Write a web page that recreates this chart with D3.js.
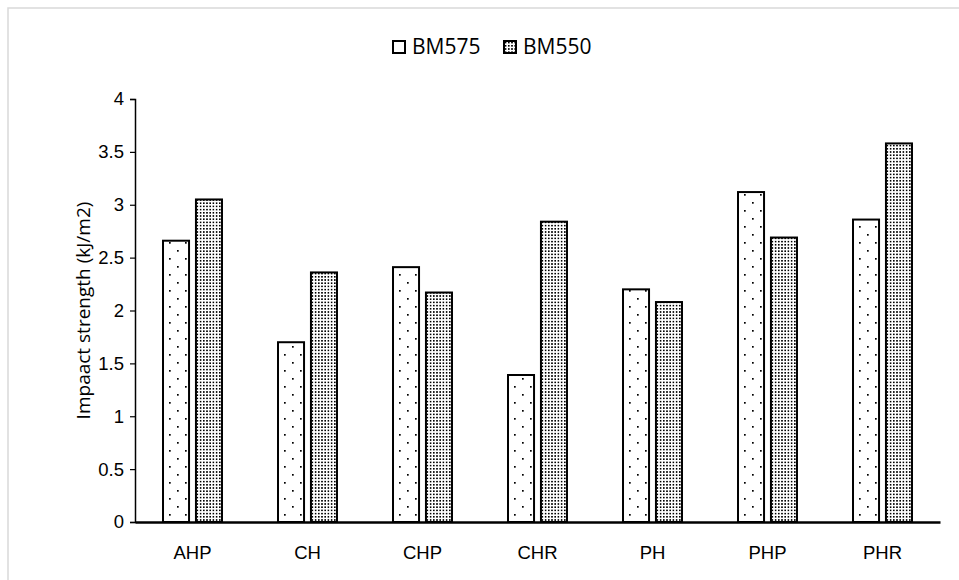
<!DOCTYPE html>
<html>
<head>
<meta charset="utf-8">
<script src="https://cdn.jsdelivr.net/npm/d3@7"></script>
<style>
  body { margin: 0; background: #fff; }
  svg { display: block; font-family: "Open Sans", "Noto Sans", sans-serif; }
</style>
</head>
<body>
<div id="chart"></div>
<script>
// 数据
const categories = ['AHP', 'CH', 'CHP', 'CHR', 'PH', 'PHP', 'PHR'];
const seriesNames = ['BM575', 'BM550'];
const bm575 = [2.66, 1.70, 2.41, 1.39, 2.20, 3.12, 2.86];
const bm550 = [3.05, 2.36, 2.17, 2.84, 2.08, 2.69, 3.58];
const yTicks = [0, 0.5, 1, 1.5, 2, 2.5, 3, 3.5, 4];

const width = 959, height = 580;
const margin = { left: 135, right: 19, top: 99, bottom: 58 };

const svg = d3.select('#chart').append('svg')
    .attr('width', width)
    .attr('height', height);

// 图案填充
const defs = svg.append('defs');

// BM575: 稀疏点
const sparse = defs.append('pattern')
    .attr('id', 'pat-sparse')
    .attr('patternUnits', 'userSpaceOnUse')
    .attr('width', 16).attr('height', 16);
sparse.append('rect').attr('width', 16).attr('height', 16).attr('fill', '#fff');
sparse.append('rect').attr('x', 2).attr('y', 2).attr('width', 1.7).attr('height', 1.7).attr('fill', '#000');
sparse.append('rect').attr('x', 10).attr('y', 10).attr('width', 1.7).attr('height', 1.7).attr('fill', '#000');

// BM550: 密集点
const dense = defs.append('pattern')
    .attr('id', 'pat-dense')
    .attr('patternUnits', 'userSpaceOnUse')
    .attr('width', 3.2).attr('height', 3.2);
dense.append('rect').attr('width', 3.2).attr('height', 3.2).attr('fill', '#fff');
dense.append('rect').attr('x', 0.8).attr('y', 0.8).attr('width', 1.6).attr('height', 1.6).attr('fill', '#000');

const fills = ['url(#pat-sparse)', 'url(#pat-dense)'];

// 外框
svg.append('path')
    .attr('d', `M8,${height + 5} L8,8 L${width + 5},8`)
    .attr('fill', 'none')
    .attr('stroke', '#d9d9d9')
    .attr('stroke-width', 1.5);

// 比例尺
const x0 = d3.scaleBand()
    .domain(categories)
    .range([margin.left, width - margin.right])
    .padding(0);

const x1 = d3.scaleBand()
    .domain(seriesNames)
    .range([0, x0.bandwidth()])
    .paddingInner(0.21)
    .paddingOuter(0.85);

const y = d3.scaleLinear()
    .domain([0, 4])
    .range([height - margin.bottom, margin.top]);

// 柱子
const data = categories.map((c, i) => ({ cat: c, values: [bm575[i], bm550[i]] }));

const groups = svg.append('g')
    .selectAll('g')
    .data(data)
    .enter().append('g')
    .attr('transform', d => `translate(${x0(d.cat)},0)`);

groups.selectAll('rect')
    .data(d => d.values.map((v, j) => ({ name: seriesNames[j], value: v, j })))
    .enter().append('rect')
    .attr('x', d => x1(d.name))
    .attr('y', d => y(d.value))
    .attr('width', x1.bandwidth())
    .attr('height', d => y(0) - y(d.value))
    .attr('fill', d => fills[d.j])
    .attr('stroke', '#000')
    .attr('stroke-width', 2);

// Y轴
const yAxis = svg.append('g')
    .attr('transform', `translate(${margin.left},0)`)
    .call(d3.axisLeft(y).tickValues(yTicks).tickFormat(d3.format('')).tickSize(5).tickPadding(6));
yAxis.select('.domain').attr('stroke', '#000').attr('stroke-width', 1.5);
yAxis.selectAll('.tick line').attr('stroke', '#000').attr('stroke-width', 1.2);
yAxis.selectAll('.tick text')
    .attr('font-size', 18.5)
    .attr('fill', '#000');

// X轴
const xAxis = svg.append('g')
    .attr('transform', `translate(0,${y(0)})`)
    .call(d3.axisBottom(x0).tickSize(0).tickPadding(24));
xAxis.select('.domain').attr('stroke', '#000').attr('stroke-width', 2.5);
xAxis.selectAll('.tick text')
    .attr('font-size', 18.5)
    .attr('fill', '#000');

// Y轴标题
svg.append('text')
    .attr('transform', `translate(90,${(y(0) + y(4)) / 2}) rotate(-90)`)
    .attr('text-anchor', 'middle')
    .attr('font-size', 19)
    .attr('fill', '#000')
    .text('Impaact strength (kJ/m2)');

// 图例
const legendItems = [
    { name: 'BM575', fill: '#fff', x: 393 },
    { name: 'BM550', fill: fills[1], x: 504 }
];
const legend = svg.append('g');
const li = legend.selectAll('g')
    .data(legendItems)
    .enter().append('g')
    .attr('transform', d => `translate(${d.x},41)`);
li.append('rect')
    .attr('width', 12).attr('height', 12)
    .attr('fill', d => d.fill)
    .attr('stroke', '#000')
    .attr('stroke-width', 2);
li.append('text')
    .attr('x', 19)
    .attr('y', 13)
    .attr('font-size', 21)
    .attr('fill', '#000')
    .text(d => d.name);
</script>
</body>
</html>
